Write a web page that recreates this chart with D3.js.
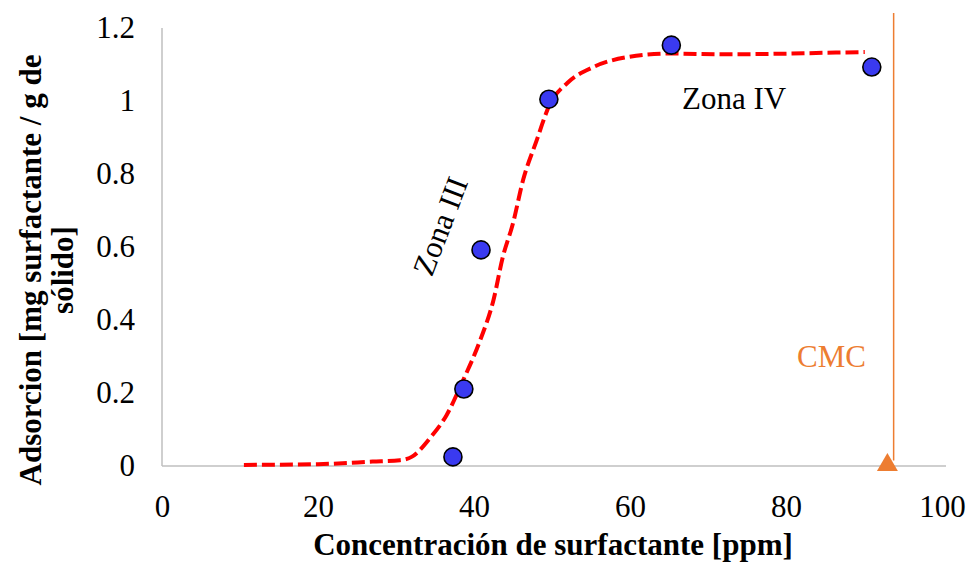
<!DOCTYPE html>
<html>
<head>
<meta charset="utf-8">
<script src="https://cdn.jsdelivr.net/npm/d3@7"></script>
<style>
  html, body { margin: 0; padding: 0; background: #fff; }
  svg { display: block; }
  text { font-family: "Liberation Serif", "Times New Roman", serif; }
</style>
</head>
<body>
<svg id="chart" width="975" height="568"></svg>
<script>
// ---- data ----
const pointX = [37.3, 38.7, 40.9, 49.6, 65.3, 91.0];
const pointY = [0.025, 0.211, 0.592, 1.005, 1.153, 1.093];

const fitX = [10.5, 20, 27, 30.5, 32, 34.5, 36.5, 38.5, 40.8, 42.5, 43.7, 45, 46.3, 48, 49.7, 52, 55.3, 59.6, 65, 72, 78, 85, 90.1];
const fitY = [0.003, 0.005, 0.012, 0.016, 0.025, 0.08, 0.14, 0.23, 0.345, 0.455, 0.573, 0.665, 0.784, 0.89, 0.99, 1.05, 1.093, 1.12, 1.13, 1.128, 1.129, 1.132, 1.134];

const cmcX = [93.0];
const cmcY = [0];
const cmcLineX = [93.8, 93.8];
const cmcLineY = [1.241, 0.015];

const xTicks = [0, 20, 40, 60, 80, 100];
const xTickLabels = ["0", "20", "40", "60", "80", "100"];
const yTicks = [0, 0.2, 0.4, 0.6, 0.8, 1, 1.2];
const yTickLabels = ["0", "0.2", "0.4", "0.6", "0.8", "1", "1.2"];

const xTitle = "Concentración de surfactante [ppm]";
const yTitleLines = ["Adsorcion [mg surfactante / g de", "sólido]"];

// ---- drawing ----
const svg = d3.select("#chart");
const x = d3.scaleLinear().domain([0, 100]).range([162, 942]);
const y = d3.scaleLinear().domain([0, 1.2]).range([466, 28]);

// axes lines
svg.append("line").attr("x1", 162).attr("x2", 946).attr("y1", y(0)).attr("y2", y(0))
  .attr("stroke", "#BFBFBF").attr("stroke-width", 1.5);
svg.append("line").attr("x1", 162).attr("x2", 162).attr("y1", y(0)).attr("y2", y(1.2))
  .attr("stroke", "#BFBFBF").attr("stroke-width", 1.5);

const xAxis = d3.axisBottom(x).tickValues(xTicks)
  .tickFormat((d, i) => xTickLabels[i]).tickSize(0).tickPadding(29);
const gx = svg.append("g").attr("transform", `translate(0,${y(0)})`).call(xAxis);
gx.select(".domain").remove();
gx.selectAll("text").attr("font-size", 31).attr("fill", "#000")
  .style("font-family", "'Liberation Serif', serif");

const yAxis = d3.axisLeft(y).tickValues(yTicks)
  .tickFormat((d, i) => yTickLabels[i]).tickSize(0).tickPadding(27);
const gy = svg.append("g").attr("transform", `translate(162,0)`).call(yAxis);
gy.select(".domain").remove();
gy.selectAll("text").attr("font-size", 31).attr("fill", "#000")
  .style("font-family", "'Liberation Serif', serif");

// CMC line
svg.append("line")
  .attr("x1", x(cmcLineX[0])).attr("x2", x(cmcLineX[1]))
  .attr("y1", y(cmcLineY[0])).attr("y2", y(cmcLineY[1]))
  .attr("stroke", "#ED7D31").attr("stroke-width", 1.5);

// fitted curve
const fitData = fitX.map((d, i) => [d, fitY[i]]);
const line = d3.line().x(d => x(d[0])).y(d => y(d[1])).curve(d3.curveMonotoneX);
svg.append("path").datum(fitData).attr("d", line)
  .attr("fill", "none").attr("stroke", "#FF0000").attr("stroke-width", 4)
  .attr("stroke-dasharray", "13,5");

// points
const pts = pointX.map((d, i) => [d, pointY[i]]);
svg.selectAll("circle.pt").data(pts).enter().append("circle")
  .attr("class", "pt")
  .attr("cx", d => x(d[0])).attr("cy", d => y(d[1])).attr("r", 9)
  .attr("fill", "#3A3AF0").attr("stroke", "#000").attr("stroke-width", 1.6);

// CMC triangle
const tri = d3.symbol().type(d3.symbolTriangle).size(190);
svg.selectAll("path.cmc").data(cmcX.map((d, i) => [d, cmcY[i]])).enter().append("path")
  .attr("class", "cmc")
  .attr("d", tri)
  .attr("transform", d => `translate(${x(d[0])},${y(d[1]) - 1})`)
  .attr("fill", "#ED7D31");

// annotations
svg.append("text").attr("x", 866).attr("y", 367).attr("text-anchor", "end")
  .attr("font-size", 31).attr("fill", "#ED7D31").text("CMC");
svg.append("text").attr("x", 682).attr("y", 109)
  .attr("font-size", 31).attr("fill", "#000").text("Zona IV");
svg.append("text").attr("transform", "translate(440,226) rotate(-69)")
  .attr("text-anchor", "middle").attr("dy", "0.35em")
  .attr("font-size", 31).attr("fill", "#000").text("Zona III");

// axis titles
svg.append("text").attr("x", 553).attr("y", 555)
  .attr("text-anchor", "middle").attr("font-size", 31).attr("font-weight", "bold")
  .attr("fill", "#000").text(xTitle);

const yt = svg.append("text")
  .attr("transform", `translate(41,270) rotate(-90)`)
  .attr("text-anchor", "middle").attr("font-size", 31).attr("font-weight", "bold")
  .attr("fill", "#000");
yTitleLines.forEach((t, i) => {
  yt.append("tspan").attr("x", 0).attr("dy", i === 0 ? 0 : 32).text(t);
});
</script>
</body>
</html>
